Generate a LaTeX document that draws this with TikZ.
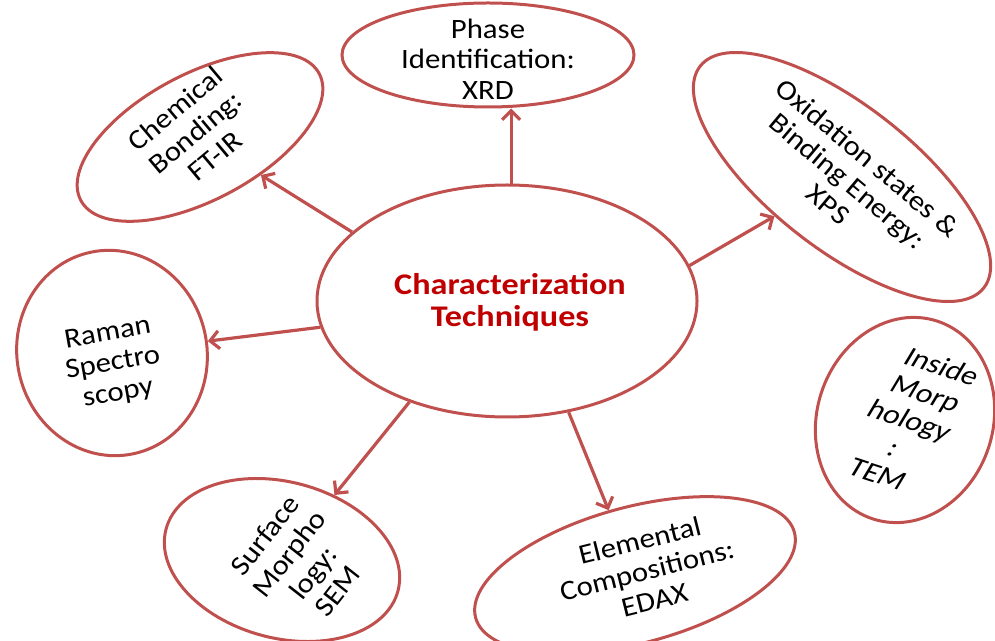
\documentclass[tikz,border=0pt]{standalone}
\usepackage{fontspec}
\setmainfont{Carlito}
\newfontfamily\lblfont[FakeStretch=1.1]{Carlito}
\newfontfamily\ctrfont[FakeStretch=1.14]{Carlito}
\usetikzlibrary{shapes.geometric,arrows.meta}
\definecolor{rim}{RGB}{192,80,77}
\definecolor{ctr}{RGB}{192,0,0}
\begin{document}
\begin{tikzpicture}[x=1pt,y=1pt,
  oval/.style={ellipse, draw=rim, line width=3pt, fill=white, inner sep=0pt},
  lbl/.style={align=center, font=\lblfont\fontsize{28}{30.5}\selectfont, text=black, inner sep=0pt},
  arr/.style={draw=rim, line width=3.2pt, -{Straight Barb[length=9pt,width=18pt]}}]
\useasboundingbox (0,0) rectangle (995,640);
% ovals
\node[oval, minimum width=380pt, minimum height=232pt] (c) at (507,339) {};
\node[oval, minimum width=292pt, minimum height=104pt] (ph) at (488,585) {};
\node[oval, minimum width=270pt, minimum height=126pt, rotate=28] (chem) at (200,503) {};
\node[oval, minimum width=360pt, minimum height=144pt, rotate=-38] (ox) at (842,463) {};
\node[oval, minimum width=176pt, minimum height=208pt, rotate=-18] (tem) at (905,220) {};
\node[oval, minimum width=190pt, minimum height=206pt, rotate=12] (ram) at (112,287) {};
\node[oval, minimum width=240pt, minimum height=156pt, rotate=-15] (sem) at (282,80) {};
\node[oval, minimum width=330pt, minimum height=136pt, rotate=15] (edx) at (635,65) {};
% texts
\node[text=ctr, font=\ctrfont\bfseries\fontsize{30}{32}\selectfont, align=center] (ct) at (510,338) {Characterization\\Techniques};
\node[lbl] (pht) at (488,581) {Phase\\Identification:\\XRD};
\node[lbl, rotate=40] (chemt) at (195,508) {Chemical\\Bonding:\\FT-IR};
\node[lbl, rotate=-40] (oxt) at (848,459) {Oxidation states \&\\Binding Energy:\\XPS};
\node[lbl, rotate=-18, xslant=0.23] (temt) at (910,220) {Inside\\Morp\\hology\\:\\TEM};
\node[lbl, rotate=10] (ramt) at (113,276) {Raman\\Spectro\\scopy};
\node[lbl, rotate=52] (semt) at (301,77) {Surface\\Morpho\\logy:\\SEM};
\node[lbl, rotate=14] (edxt) at (647,70) {Elemental\\Compositions:\\EDAX};
% arrows
\draw[arr] (c.88) -- (c.88 |- ph.south);
\draw[arr] (c.156) -- (chem);
\draw[arr] (c.11) -- (ox);
\draw[arr] (c.188) -- (ram);
\draw[arr] (c.226) -- (sem);
\draw[arr] (c.299) -- (edx);
\end{tikzpicture}
\end{document}
